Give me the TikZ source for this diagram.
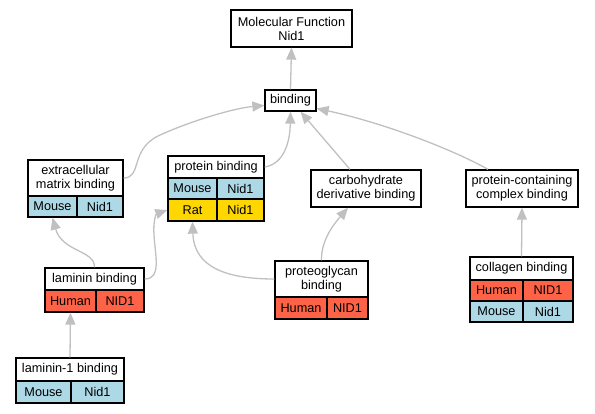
\documentclass[tikz,border=0pt]{standalone}
\usepackage{fontspec}
\setmainfont{Liberation Sans}
\usetikzlibrary{arrows.meta,calc}
\definecolor{edgegray}{RGB}{192,192,192}
\definecolor{cellblue}{RGB}{173,216,230}
\definecolor{cellred}{RGB}{255,99,71}
\definecolor{cellgold}{RGB}{255,215,0}
\tikzset{
  box/.style={draw=black, line width=1.3pt, inner sep=0pt, align=center,
    font=\fontsize{12.7}{14}\selectfont, fill=white},
  sz/.style 2 args={minimum width=#1pt, minimum height=#2pt},
  blue/.style={fill=cellblue},
  red/.style={fill=cellred},
  gold/.style={fill=cellgold},
  edge/.style={draw=edgegray, line width=1.3pt,
    -{Triangle[length=12pt,width=10pt]}, fill=none},
}
\begin{document}
\begin{tikzpicture}[x=1pt,y=-1pt]
\useasboundingbox (0,0) rectangle (595,413);
% nodes
\node[box,sz={121}{37}] (mf) at (291.5,28.5) {Molecular Function\\Nid1};
\node[box,sz={51}{21}] (bind) at (290.5,100.5) {binding};
% extracellular matrix binding
\node[box,sz={95}{36}] (ecm) at (75.5,178) {extracellular\\matrix binding};
\node[box,blue,sz={49}{21}] (ecmA) at (52.5,206.5) {Mouse};
\node[box,blue,sz={46}{21}] (ecmB) at (100,206.5) {Nid1};
% protein binding
\node[box,sz={96}{22}] (pb) at (216,167) {protein binding};
\node[box,blue,sz={49}{21}] (pbA) at (192.5,188.5) {Mouse};
\node[box,blue,sz={47}{21}] (pbB) at (240.5,188.5) {Nid1};
\node[box,gold,sz={49}{22}] (pbC) at (192.5,210) {Rat};
\node[box,gold,sz={47}{22}] (pbD) at (240.5,210) {Nid1};
% carbohydrate derivative binding
\node[box,sz={110}{37}] (carb) at (366,188.5) {carbohydrate\\derivative binding};
% protein-containing complex binding
\node[box,sz={112}{37}] (pcc) at (522,188.5) {protein-containing\\complex binding};
% laminin binding
\node[box,sz={99}{22}] (lam) at (94.5,279) {laminin binding};
\node[box,red,sz={51}{22}] (lamA) at (70.5,301) {Human};
\node[box,red,sz={48}{22}] (lamB) at (120,301) {NID1};
% proteoglycan binding
\node[box,sz={93}{36}] (pg) at (321.5,279) {proteoglycan\\binding};
\node[box,red,sz={52}{22}] (pgA) at (301,308) {Human};
\node[box,red,sz={41}{22}] (pgB) at (347.5,308) {NID1};
% collagen binding
\node[box,sz={103}{23}] (col) at (521.5,268.5) {collagen binding};
\node[box,red,sz={53}{21}] (colA) at (496.5,290.5) {Human};
\node[box,red,sz={50}{21}] (colB) at (548,290.5) {NID1};
\node[box,blue,sz={53}{21}] (colC) at (496.5,311.5) {Mouse};
\node[box,blue,sz={50}{21}] (colD) at (548,311.5) {Nid1};
% laminin-1 binding
\node[box,sz={108}{23}] (lam1) at (70,369.5) {laminin-1 binding};
\node[box,blue,sz={55}{22}] (lam1A) at (43.5,392) {Mouse};
\node[box,blue,sz={53}{22}] (lam1B) at (97.5,392) {Nid1};
% edges
\draw[edge] (bind.north) -- (mf.south);
\draw[edge] (ecm.east) .. controls (142,178) and (130,150) .. (158,136)
  .. controls (190,121) and (235,108) .. ($(bind.west)+(0,5)$);
\draw[edge] (pb.east) .. controls (284,164) and (290,142) .. (bind.south);
\draw[edge] ($(carb.north)+(-16,0)$) -- ($(bind.south)+(10,0)$);
\draw[edge] ($(pcc.north)+(-34,0)$) .. controls (450,148) and (380,122) .. ($(bind.east)+(0,8)$);
\draw[edge] (lam.north) .. controls (95,250) and (62,252) .. (ecmA.south);
\draw[edge] (lam.east) .. controls (162,279) and (155,255) .. (154,235)
  .. controls (153,222) and (156,214) .. (pbC.west);
\draw[edge] (pg.west) .. controls (228,279) and (194,268) .. (pbC.south);
\draw[edge] (pg.north) .. controls (321,240) and (334,224) .. ($(carb.south)+(-18,0)$);
\draw[edge] (lam1.north) -- (lamA.south);
\draw[edge] (col.north) -- (pcc.south);
\end{tikzpicture}
\end{document}
